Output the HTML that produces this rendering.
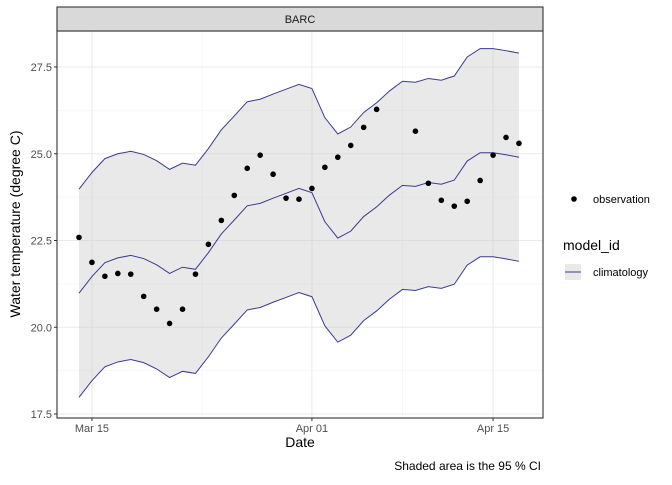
<!DOCTYPE html>
<html><head><meta charset="utf-8"><style>
body{margin:0;background:#fff;font-family:"Liberation Sans",sans-serif}
</style></head><body>
<svg width="672" height="480" xmlns="http://www.w3.org/2000/svg" font-family="Liberation Sans, sans-serif">
<rect width="672" height="480" fill="#fff"/>
<g id="plot"></g>
</svg>
<script>
const days=["Mar14","Mar15","Mar16","Mar17","Mar18","Mar19","Mar20","Mar21","Mar22","Mar23","Mar24","Mar25","Mar26","Mar27","Mar28","Mar29","Mar30","Mar31","Apr01","Apr02","Apr03","Apr04","Apr05","Apr06","Apr07","Apr08","Apr09","Apr10","Apr11","Apr12","Apr13","Apr14","Apr15","Apr16","Apr17"];
const mid=[20.98,21.46,21.86,22.0,22.07,21.98,21.8,21.55,21.73,21.67,22.15,22.69,23.09,23.5,23.57,23.72,23.86,24.0,23.88,23.04,22.57,22.77,23.19,23.47,23.81,24.09,24.06,24.17,24.12,24.24,24.79,25.03,25.03,24.97,24.9];
const upper=[23.98,24.46,24.86,25.0,25.07,24.98,24.8,24.55,24.73,24.67,25.15,25.69,26.09,26.5,26.57,26.72,26.86,27.0,26.88,26.04,25.57,25.77,26.19,26.47,26.81,27.09,27.06,27.17,27.12,27.24,27.79,28.03,28.03,27.97,27.9];
const lower=[17.98,18.46,18.86,19.0,19.07,18.98,18.8,18.55,18.73,18.67,19.15,19.69,20.09,20.5,20.57,20.72,20.86,21.0,20.88,20.04,19.57,19.77,20.19,20.47,20.81,21.09,21.06,21.17,21.12,21.24,21.79,22.03,22.03,21.97,21.9];
const obs=[22.59,21.87,21.47,21.55,21.53,20.89,20.52,20.11,20.52,21.53,22.39,23.08,23.8,24.58,24.96,24.41,23.72,23.69,24.0,24.61,24.9,25.24,25.76,26.28,null,null,25.65,24.15,23.66,23.49,23.63,24.23,24.96,25.47,25.3];
const yTicks=[17.5,20.0,22.5,25.0,27.5];
const xTickLabels=["Mar 15","Apr 01","Apr 15"];
const xTickIdx=[1,18,32];

const NS="http://www.w3.org/2000/svg";
const g=document.getElementById('plot');
const L=57,R=543,T=31,B=418;
const x=i=>79+i*12.94;
const y=v=>414-(v-17.5)*(86.75/2.5);
function el(t,a,p){const e=document.createElementNS(NS,t);for(const k in a)e.setAttribute(k,a[k]);(p||g).appendChild(e);return e;}
const panel=el('rect',{x:L,y:T,width:R-L,height:B-T,fill:'#fff'});


for(let i=0;i<yTicks.length-1;i++){const v=(yTicks[i]+yTicks[i+1])/2;const l=el('line',{x1:L,x2:R,y1:y(v),y2:y(v),stroke:'#f0f0f0','stroke-width':0.6});}
[9.5,25].forEach(d=>{const l=el('line',{x1:x(d),x2:x(d),y1:T,y2:B,stroke:'#f0f0f0','stroke-width':0.6});});
yTicks.forEach(v=>{const l=el('line',{x1:L,x2:R,y1:y(v),y2:y(v),stroke:'#ebebeb','stroke-width':1.1});
const t=el('text',{x:L-5,y:y(v)+4,'text-anchor':'end','font-size':11,fill:'#4d4d4d'});t.textContent=v.toFixed(1);
el('line',{x1:L-3,x2:L,y1:y(v),y2:y(v),stroke:'#333'});});
xTickIdx.forEach((d,i)=>{const l=el('line',{x1:x(d),x2:x(d),y1:T,y2:B,stroke:'#ebebeb','stroke-width':1.1});
el('line',{x1:x(d),x2:x(d),y1:B,y2:B+3,stroke:'#333'});
const t=el('text',{x:x(d),y:B+14,'text-anchor':'middle','font-size':11,fill:'#4d4d4d'});t.textContent=xTickLabels[i];});
let d='M'+upper.map((v,i)=>x(i)+','+y(v)).join('L')+'L'+lower.map((v,i)=>x(i)+','+y(v)).reverse().join('L')+'Z';
const rib=el('path',{d:d,fill:'#c8c8c8','fill-opacity':0.4});


[upper,mid,lower].forEach((s,k)=>{const p=el('polyline',{points:s.map((v,i)=>x(i)+','+y(v)).join(' '),fill:'none',stroke:'#3b3b8f','stroke-width':1});

});
obs.forEach((v,i)=>{if(v==null)return;const c=el('circle',{cx:x(i),cy:y(v),r:2.8,fill:'#000'});

});
el('rect',{x:L,y:T,width:R-L,height:B-T,fill:'none',stroke:'#333','stroke-width':1.1});
const strip=el('rect',{x:L,y:7,width:R-L,height:24,fill:'#d9d9d9',stroke:'#333','stroke-width':1.1});


let t=el('text',{x:(L+R)/2,y:23,'text-anchor':'middle','font-size':11,fill:'#1a1a1a'});t.textContent='BARC';

t=el('text',{x:300,y:447,'text-anchor':'middle','font-size':14,fill:'#000'});t.textContent='Date';

t=el('text',{x:0,y:0,'text-anchor':'middle','font-size':14,fill:'#000',transform:'translate(20,224) rotate(-90)'});t.textContent='Water temperature (degree C)';

t=el('text',{x:541,y:470,'text-anchor':'end','font-size':12,fill:'#000'});t.textContent='Shaded area is the 95 % CI';

let c=el('circle',{cx:574,cy:199,r:2.8,fill:'#000'});
t=el('text',{x:593,y:203,'font-size':11,fill:'#000'});t.textContent='observation';
t=el('text',{x:563,y:250,'font-size':14,fill:'#000'});t.textContent='model_id';
let r=el('rect',{x:565,y:264,width:16,height:16,fill:'#c8c8c8','fill-opacity':0.4});
el('line',{x1:565,x2:581,y1:272,y2:272,stroke:'#3b3b8f'});
t=el('text',{x:593,y:276,'font-size':11,fill:'#000'});t.textContent='climatology';
</script>
</body></html>
